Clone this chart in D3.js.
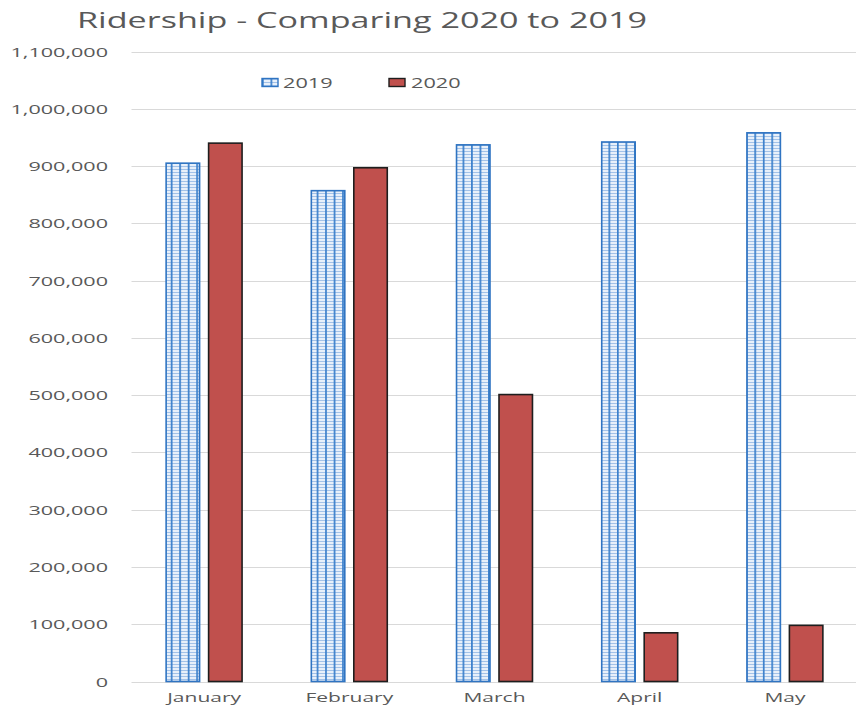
<!DOCTYPE html>
<html>
<head>
<meta charset="utf-8">
<script src="https://cdn.jsdelivr.net/npm/d3@7"></script>
<style>
  html, body { margin: 0; padding: 0; background: #fff; }
  svg { display: block; }
  text { font-family: "Open Sans", sans-serif; fill: #595959; }
</style>
</head>
<body>
<svg id="chart" width="856" height="706"></svg>
<script>
const months = ["January", "February", "March", "April", "May"];
const seriesNames = ["2019", "2020"];
const values2019 = [905000, 857000, 937000, 942000, 958000];
const values2020 = [940000, 897000, 501000, 85000, 98000];
const yTicks = [0, 100000, 200000, 300000, 400000, 500000, 600000, 700000, 800000, 900000, 1000000, 1100000];
const titleText = "Ridership - Comparing 2020 to 2019";

const svg = d3.select("#chart");
const plot = { left: 131.5, right: 857.5, top: 51.5, bottom: 681.5 };

const y = d3.scaleLinear().domain([0, 1100000]).range([plot.bottom, plot.top]);
const x0 = d3.scaleBand().domain(months).range([plot.left, plot.right])
  .paddingInner(0.477).paddingOuter(0.2385);
const x1 = d3.scaleBand().domain(seriesNames).range([0, x0.bandwidth()])
  .paddingInner(0.212).paddingOuter(0);

function stretch(sel, f) {
  sel.each(function() {
    const w = this.getComputedTextLength();
    d3.select(this).attr("textLength", w * f).attr("lengthAdjust", "spacingAndGlyphs");
  });
}

const defs = svg.append("defs");
function makePattern(id, ox) {
  const p = defs.append("pattern").attr("id", id)
    .attr("patternUnits", "userSpaceOnUse")
    .attr("x", ox).attr("y", 0)
    .attr("width", 8.5).attr("height", 3);
  p.append("rect").attr("width", 8.5).attr("height", 3).attr("fill", "#e8f0fa");
  p.append("rect").attr("x", 0).attr("y", 1).attr("width", 8.5).attr("height", 1).attr("fill", "#a3c2e8");
  p.append("rect").attr("x", 0).attr("y", 0).attr("width", 1.7).attr("height", 3).attr("fill", "#3a7fcb");
}

// gridlines
const grid = svg.append("g");
grid.selectAll("line").data(yTicks).join("line")
  .attr("x1", plot.left).attr("x2", 856)
  .attr("y1", d => Math.round(y(d)) + 0.5).attr("y2", d => Math.round(y(d)) + 0.5)
  .attr("stroke", "#d9d9d9").attr("stroke-width", 1);

// y axis labels
const yAxis = d3.axisLeft(y).tickValues(yTicks).tickFormat(d3.format(",")).tickSize(0).tickPadding(0);
const yg = svg.append("g").attr("transform", "translate(108,0)").call(yAxis);
yg.select(".domain").remove();
yg.selectAll("text").attr("font-size", 13).attr("font-family", "Open Sans, sans-serif")
  .attr("fill", "#595959").attr("dy", "0.35em").attr("x", 0);
stretch(yg.selectAll("text"), 1.66);

// x axis labels
const xAxis = d3.axisBottom(x0).tickSize(0).tickPadding(0);
const xg = svg.append("g").attr("transform", `translate(0,${plot.bottom})`).call(xAxis);
xg.select(".domain").remove();
xg.selectAll("text").attr("font-size", 12.5).attr("font-family", "Open Sans, sans-serif")
  .attr("fill", "#595959").attr("y", 20).attr("dy", 0);
stretch(xg.selectAll("text"), 1.68);

// bars
const groups = svg.append("g").selectAll("g").data(months).join("g")
  .attr("transform", d => `translate(${x0(d)},0)`);

months.forEach((m, i) => makePattern("pat" + i, x0(m) + x1("2019")));

groups.append("rect")
  .attr("x", x1("2019")).attr("width", x1.bandwidth())
  .attr("y", (d, i) => y(values2019[i])).attr("height", (d, i) => plot.bottom - y(values2019[i]))
  .attr("fill", (d, i) => `url(#pat${i})`)
  .attr("stroke", "#2f74c2").attr("stroke-width", 1.6);

groups.append("rect")
  .attr("x", x1("2020")).attr("width", x1.bandwidth())
  .attr("y", (d, i) => y(values2020[i])).attr("height", (d, i) => plot.bottom - y(values2020[i]))
  .attr("fill", "#c0504d")
  .attr("stroke", "#1e1e1e").attr("stroke-width", 1.6);

// title
svg.append("text").attr("x", 77).attr("y", 28).attr("font-size", 21)
  .attr("textLength", 570).attr("lengthAdjust", "spacingAndGlyphs")
  .text(titleText);

// legend
makePattern("patLeg", 262);
const legend = svg.append("g");
legend.append("rect").attr("x", 262).attr("y", 78.5).attr("width", 16).attr("height", 8)
  .attr("fill", "url(#patLeg)").attr("stroke", "#2f74c2").attr("stroke-width", 1.4);
legend.append("rect").attr("x", 389).attr("y", 78.5).attr("width", 16).attr("height", 8)
  .attr("fill", "#c0504d").attr("stroke", "#1e1e1e").attr("stroke-width", 1.4);
const l1 = legend.append("text").attr("x", 283).attr("y", 88).attr("font-size", 14).text(seriesNames[0]);
const l2 = legend.append("text").attr("x", 411).attr("y", 88).attr("font-size", 14).text(seriesNames[1]);
stretch(l1, 1.55); stretch(l2, 1.55);
</script>
</body>
</html>
